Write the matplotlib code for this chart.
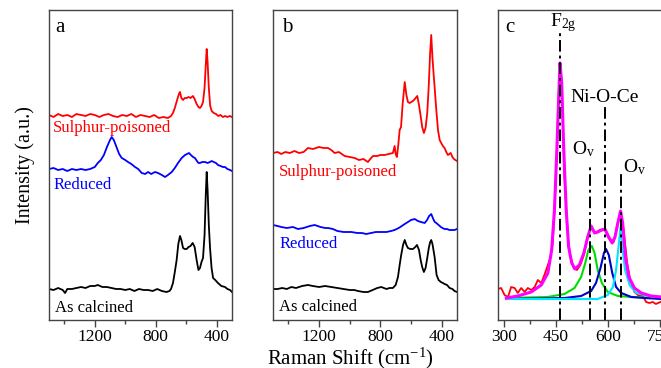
import matplotlib
matplotlib.use("Agg")
import matplotlib.pyplot as plt
from matplotlib.ticker import MultipleLocator

plt.rcParams['font.family'] = ['Liberation Serif', 'DejaVu Serif']
plt.rcParams['mathtext.fontset'] = 'custom'
plt.rcParams['mathtext.rm'] = 'Liberation Serif'
plt.rcParams['mathtext.it'] = 'Liberation Serif:italic'

# ---------------- Panel a (Raman shift, intensity offset) ----------------
a_calc_w = [1500,1470,1440,1410,1395,1380,1350,1320,1290,1260,1230,1200,1180,1150,1120,1090,1060,1030,1000,970,
            940,910,880,850,820,790,760,730,710,700,687,675,663,652,641,632,621,610,597,585,
            572,558,545,532,520,510,500,490,480,472,466,460,452,444,434,424,410,392,370,346,330,313,300]
a_calc_i = [31,30,32,30,27,31,31,32,33,32,34,34,35,33,33,32,31,31,30,31,
            29,31,30,30,29,31,29,28,29,31,37,48,60,76,84,80,72,71,71,73,
            74,77,73,60,50,52,58,62,85,125,148,130,95,72,52,42,40,37,34,33,31,30,28]

a_red_w = [1500,1470,1440,1410,1380,1350,1320,1290,1260,1230,1200,1170,1140,1110,1080,1050,1020,990,960,930,
           900,870,840,810,780,750,720,700,687,675,660,648,641,632,621,610,597,585,572,556,
           545,532,520,510,500,490,480,472,466,460,452,443,433,420,405,390,375,360,345,330,315,300]
a_red_i = [205,203,206,204,205,203,206,205,204,206,205,203,205,206,204,203,205,204,206,203,
           205,204,203,205,202,203,202,204,207,212,220,226,228,222,220,222,222,223,222,224,
           221,216,213,212,214,218,232,255,271,258,232,214,209,207,206,204,205,203,204,203,204,203]

a_blue_w = [1500,1470,1440,1410,1380,1350,1320,1290,1260,1230,1200,1180,1160,1140,1120,1100,1089,1075,1060,1040,
            1023,1000,982,960,936,915,892,870,850,830,805,785,760,739,720,695,675,654,630,608,
            595,582,570,555,543,530,520,510,495,477,460,445,433,420,405,392,375,360,346,330,313,300]
a_blue_i = [151,152,150,151,149,151,150,151,150,151,153,157,160,165,173,180,183,180,174,166,
            162,160,158,156,153,151,147,146,148,146,148,147,145,143,145,148,152,157,162,165,
            166,167,165,163,162,159,157,157,158,158,157,158,159,158,157,155,154,153,153,151,150,149]

# ---------------- Panel b ----------------
b_red_w = [1500,1470,1446,1420,1390,1360,1330,1300,1272,1240,1200,1170,1141,1120,1098,1070,1033,1000,967,940,
           910,881,860,848,820,800,772,745,718,707,700,692,683,674,665,655,641,630,620,609,
           598,587,575,565,559,548,537,527,516,505,494,484,475,468,460,452,446,435,424,413,
           403,392,381,370,359,350,341,330,320,311,300]
b_red_i = [167,168,166,168,167,169,167,168,172,171,173,172,172,170,167,168,164,163,162,160,
           161,158,162,164,164,165,165,166,167,174,166,163,175,190,193,215,238,225,218,217,
           218,219,221,223,224,215,204,193,187,192,207,235,268,285,262,245,233,210,190,180,
           177,174,172,168,165,166,167,163,161,160,159]

b_blue_w = [1500,1470,1446,1410,1370,1337,1300,1260,1228,1190,1160,1141,1110,1080,1040,989,950,920,892,860,
            830,794,760,730,707,680,660,641,620,600,576,555,535,511,495,482,468,455,445,435,
            420,405,395,381,365,350,330,316,300]
b_blue_i = [95,94,93,92,93,91,92,94,95,93,92,92,91,89,88,88,87,87,86,87,
            88,88,88,89,90,92,94,96,98,100,101,99,98,97,100,104,106,101,98,97,
            95,93,92,91,91,90,90,90,91]

b_calc_w = [1500,1470,1440,1410,1380,1350,1310,1272,1240,1200,1160,1120,1080,1040,1000,970,946,910,881,850,
            820,794,760,740,718,700,685,674,664,652,641,630,620,605,587,572,561,548,537,527,
            516,505,494,484,475,468,460,446,433,420,405,392,381,365,348,330,316,300]
b_calc_i = [31,31,32,31,33,32,34,35,34,33,34,33,32,31,30,30,29,28,28,30,
            32,33,31,32,32,35,43,55,65,75,80,75,72,71,71,73,75,70,60,53,
            48,52,62,72,78,80,76,63,45,40,38,37,36,35,32,31,29,28]

sample_labels = ["Sulphur-poisoned", "Reduced", "As calcined"]

# ---------------- Panel c (peak fitting) ----------------
c_data_w = [283,292,302,312,321,331,340,350,360,369,379,389,398,408,418,427,435,441,446,453,458,462,467,
            475,485,492,502,511,521,531,540,550,557,566,576,588,598,607,617,627,637,646,656,665,677,
            687,701,711,720,730,739,752]
c_data_i = [31,32,25,23,33,32,27,32,28,32,30,33,40,37,46,55,63,77,108,168,220,256,236,
            143,83,63,52,50,55,65,80,92,90,87,90,91,87,81,78,93,108,90,57,40,28,
            25,24,18,17,18,16,18]

c_fit_w = [307,340,379,408,427,438,446,453,458,462,467,473,480,487,496,505,518,531,542,552,562,571,583,592,
           602,613,621,629,637,643,651,661,677,697,725,754]
c_fit_i = [22,24,28,35,47,70,110,170,220,257,237,170,110,73,57,51,55,67,83,94,87,88,90,91,
           83,77,83,97,109,97,63,43,32,27,24,23]

c_g_w = [307,427,475,504,523,535,544,554,562,571,583,600,629,668,754]
c_g_i = [22,23,26,32,43,57,70,74,67,50,37,28,24,23,22]

c_b_w = [307,475,523,552,566,579,589,595,603,613,624,639,668,706,754]
c_b_i = [21,22,24,29,37,52,67,71,65,47,33,27,23,22,21]

c_c_w = [307,571,600,615,624,631,637,642,650,663,682,716,754]
c_c_i = [21,21,25,33,50,73,93,73,50,35,27,24,23]

peak_names = ["F$_\\mathrm{2g}$", "O$_\\mathrm{v}$", "Ni-O-Ce", "O$_\\mathrm{v}$"]
peak_pos = [462, 550, 593, 637]
peak_tops = [287, 155, 213, 147]

# ---------------- Figure ----------------
W, H = 661, 368
fig = plt.figure(figsize=(W / 100, H / 100), dpi=100)

def px_axes(l, r, t, b):
    return fig.add_axes([l / W, 1 - b / H, (r - l) / W, (b - t) / H])

spine_col = '#444444'

def style(ax):
    for s in ax.spines.values():
        s.set_color(spine_col)
        s.set_linewidth(1.0)
    ax.tick_params(axis='x', which='major', direction='out', length=5, width=1.0,
                   color=spine_col, labelsize=12.5, pad=1.5)
    ax.tick_params(axis='x', which='minor', direction='out', length=3, width=1.0, color=spine_col)
    ax.set_yticks([])

axa = px_axes(49, 232, 10, 320)
axb = px_axes(273, 457, 10, 320)
axc = px_axes(498, 677, 10, 320)

lw = 1.3
axa.plot(a_red_w, a_red_i, color='#ff0000', lw=lw)
axa.plot(a_blue_w, a_blue_i, color='#0000ff', lw=lw)
axa.plot(a_calc_w, a_calc_i, color='black', lw=lw)

axb.plot(b_red_w, b_red_i, color='#ff0000', lw=lw)
axb.plot(b_blue_w, b_blue_i, color='#0000ff', lw=lw)
axb.plot(b_calc_w, b_calc_i, color='black', lw=lw)

for ax in (axa, axb):
    ax.set_xlim(1500, 300)
    ax.set_ylim(0, 310)
    ax.xaxis.set_major_locator(MultipleLocator(400))
    ax.xaxis.set_minor_locator(MultipleLocator(200))
    style(ax)

lbl_fs = 12
cols = ['#ff0000', '#0000ff', 'black']
for lbl, c, xf, yf in zip(sample_labels, cols, [0.022, 0.022, 0.033], [0.619, 0.435, 0.039]):
    axa.text(xf, yf, lbl, color=c, fontsize=lbl_fs, transform=axa.transAxes, va='center')
for lbl, c, yf in zip(sample_labels, cols, [0.477, 0.245, 0.042]):
    axb.text(0.033, yf, lbl, color=c, fontsize=lbl_fs, transform=axb.transAxes, va='center')

axc.plot(c_data_w, c_data_i, color='#ff0000', lw=1.3)
axc.plot(c_g_w, c_g_i, color='#00dd00', lw=1.5)
axc.plot(c_b_w, c_b_i, color='#0000cc', lw=1.5)
axc.plot(c_c_w, c_c_i, color='#00e5ff', lw=1.5)
axc.plot(c_fit_w, c_fit_i, color='#ff00ff', lw=2.2)
for p, t in zip(peak_pos, peak_tops):
    axc.plot([p, p], [0, t], color='black', lw=1.4, ls=(0, (6, 2, 1.5, 2)))
axc.set_xlim(283, 800)
axc.set_ylim(0, 310)
axc.xaxis.set_major_locator(MultipleLocator(150))
axc.xaxis.set_minor_locator(MultipleLocator(75))
style(axc)
ann_fs = 14
for name, x, y in zip(peak_names, [470, 531, 590, 677], [297, 171, 223, 153]):
    axc.text(x, y, name, fontsize=ann_fs, ha='center', va='center')

for ax, letter, x in ((axa, 'a', 0.033), (axb, 'b', 0.047), (axc, 'c', 0.039)):
    ax.text(x, 0.945, letter, fontsize=15, transform=ax.transAxes, va='center', ha='left')

fig.text(25 / W, 1 - 165 / H, "Intensity (a.u.)", rotation=90, ha='center', va='center', fontsize=14.5)
fig.text(350 / W, 0.011, "Raman Shift (cm$^{-1}$)", ha='center', va='baseline', fontsize=15)

fig.savefig("out.png", dpi=100)
